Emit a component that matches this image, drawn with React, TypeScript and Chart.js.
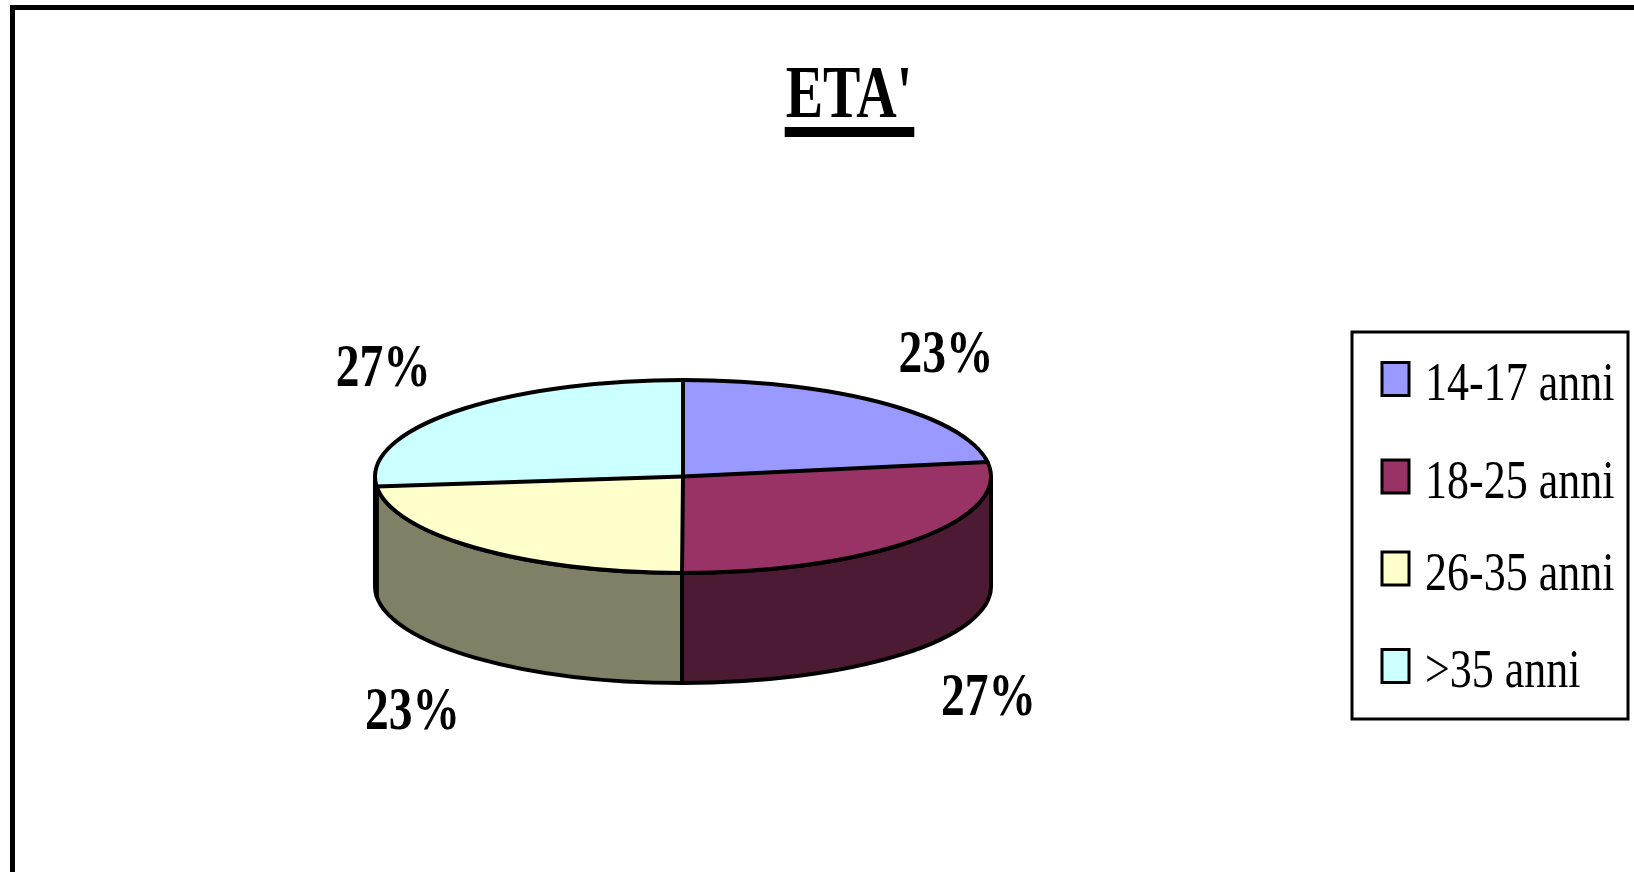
import React, { useEffect, useRef } from "react";
import { Chart, PieController, ArcElement } from "chart.js";

Chart.register(PieController, ArcElement);

const categories = ["14-17 anni", "18-25 anni", "26-35 anni", ">35 anni"];
const values = [22.6, 27.45, 23.3, 26.65];
const topColors = ["#9999FF", "#993366", "#FFFFCC", "#CCFFFF"];
const sideColors = ["#4D4D80", "#4D1A33", "#808066", "#668080"];
const chartTitle = "ETA'";

const W = 1634;
const H = 872;
const CX = 683;
const CY = 476.5;
const RX = 308;
const RY = 96.5;
const DEPTH = 110;
const K = RY / RX;
const LW = 4;
const SERIF = '"Liberation Serif", "Times New Roman", serif';

function stretchedText(ctx: CanvasRenderingContext2D, text: string, x: number, y: number, font: string, sy: number, align: CanvasTextAlign) {
  ctx.save();
  ctx.translate(x, y);
  ctx.scale(1, sy);
  ctx.font = font;
  ctx.textAlign = align;
  ctx.textBaseline = "alphabetic";
  ctx.fillStyle = "#000";
  ctx.fillText(text, 0, 0);
  ctx.restore();
}

function arcProps(arc: any) {
  return arc.getProps(["startAngle", "endAngle", "x", "y", "outerRadius"], true);
}

const pie3d = {
  id: "pie3d",
  beforeDatasetsDraw(chart: any) {
    const ctx: CanvasRenderingContext2D = chart.ctx;
    const meta = chart.getDatasetMeta(0);
    ctx.save();
    meta.data.forEach((arc: any, i: number) => {
      const { startAngle, endAngle, x, y, outerRadius } = arcProps(arc);
      const rx = outerRadius;
      const ry = outerRadius * K;
      const a = Math.max(startAngle, 0);
      const b = Math.min(endAngle, Math.PI);
      if (b <= a) return;
      ctx.beginPath();
      ctx.ellipse(x, y, rx, ry, 0, a, b, false);
      ctx.lineTo(x + rx * Math.cos(b), y + DEPTH + ry * Math.sin(b));
      ctx.ellipse(x, y + DEPTH, rx, ry, 0, b, a, true);
      ctx.closePath();
      ctx.fillStyle = sideColors[i];
      ctx.fill();
      ctx.lineWidth = LW;
      ctx.strokeStyle = "#000";
      ctx.lineJoin = "round";
      ctx.stroke();
    });
    ctx.restore();
    const p0 = arcProps(meta.data[0]);
    ctx.save();
    ctx.translate(p0.x, p0.y);
    ctx.scale(1, K);
    ctx.translate(-p0.x, -p0.y);
  },
  afterDatasetsDraw(chart: any) {
    const ctx: CanvasRenderingContext2D = chart.ctx;
    ctx.restore();
    const meta = chart.getDatasetMeta(0);
    const total = values.reduce((s, v) => s + v, 0);
    ctx.save();
    ctx.strokeStyle = "#000";
    ctx.lineWidth = LW;
    ctx.lineJoin = "round";
    ctx.lineCap = "round";
    const p0 = arcProps(meta.data[0]);
    ctx.beginPath();
    ctx.ellipse(p0.x, p0.y, p0.outerRadius, p0.outerRadius * K, 0, 0, Math.PI * 2);
    ctx.stroke();
    meta.data.forEach((arc: any) => {
      const { startAngle, x, y, outerRadius } = arcProps(arc);
      ctx.beginPath();
      ctx.moveTo(x, y);
      ctx.lineTo(x + outerRadius * Math.cos(startAngle), y + outerRadius * K * Math.sin(startAngle));
      ctx.stroke();
    });
    ctx.restore();
    // percentage labels
    meta.data.forEach((arc: any, i: number) => {
      const { startAngle, endAngle, x, y, outerRadius } = arcProps(arc);
      const mid = (startAngle + endAngle) / 2;
      const s = Math.sin(mid);
      const lx = x + outerRadius * 1.31 * Math.cos(mid);
      const ly = y + outerRadius * K * 1.71 * s + (s > 0 ? DEPTH : 0);
      const txt = Math.round((values[i] / total) * 100) + "%";
      stretchedText(ctx, txt, lx, ly + 0.338 * 47.5 * 1.27, "bold 47.5px " + SERIF, 1.27, "center");
    });
  },
  afterDraw(chart: any) {
    const ctx: CanvasRenderingContext2D = chart.ctx;
    // frame
    ctx.save();
    ctx.strokeStyle = "#000";
    ctx.lineWidth = 5;
    ctx.strokeRect(12.5, 7.5, 3000, 3000);
    ctx.restore();
    // title
    stretchedText(ctx, chartTitle, 849, 117, "bold 56px " + SERIF, 1.32, "center");
    ctx.save();
    ctx.font = "bold 56px " + SERIF;
    const tw = ctx.measureText(chartTitle).width;
    ctx.fillStyle = "#000";
    ctx.fillRect(849 - tw / 2 - 1, 127, tw + 3, 10);
    ctx.restore();
    // legend
    ctx.save();
    ctx.strokeStyle = "#000";
    ctx.lineWidth = 3;
    ctx.strokeRect(1352, 332, 276, 387);
    const rowY = [379, 476.5, 568.5, 666];
    categories.forEach((c, i) => {
      ctx.fillStyle = topColors[i];
      ctx.fillRect(1382, rowY[i] - 16.5, 27, 33);
      ctx.lineWidth = 3;
      ctx.strokeStyle = "#000";
      ctx.strokeRect(1382, rowY[i] - 16.5, 27, 33);
      stretchedText(ctx, c, 1425, rowY[i] + 21, "44px " + SERIF, 1.24, "left");
    });
    ctx.restore();
  },
};

export default function App() {
  const ref = useRef<HTMLCanvasElement | null>(null);
  useEffect(() => {
    if (!ref.current) return;
    const chart = new Chart(ref.current, {
      type: "pie",
      data: {
        labels: categories,
        datasets: [
          {
            data: values,
            backgroundColor: topColors,
            borderWidth: 0,
            radius: RX,
          } as any,
        ],
      },
      options: {
        responsive: false,
        animation: false,
        devicePixelRatio: 1,
        radius: RX,
        events: [],
        layout: {
          padding: { left: CX - RX, right: W - (CX + RX), top: CY - RX, bottom: H - (CY + RX) },
        },
        plugins: {
          legend: { display: false },
          tooltip: { enabled: false },
          title: { display: false },
        },
      } as any,
      plugins: [pie3d],
    });
    return () => chart.destroy();
  }, []);
  return (
    <div style={{ position: "fixed", left: 0, top: 0, width: W, height: H, background: "#fff" }}>
      <canvas ref={ref} width={W} height={H} style={{ display: "block" }} />
    </div>
  );
}
